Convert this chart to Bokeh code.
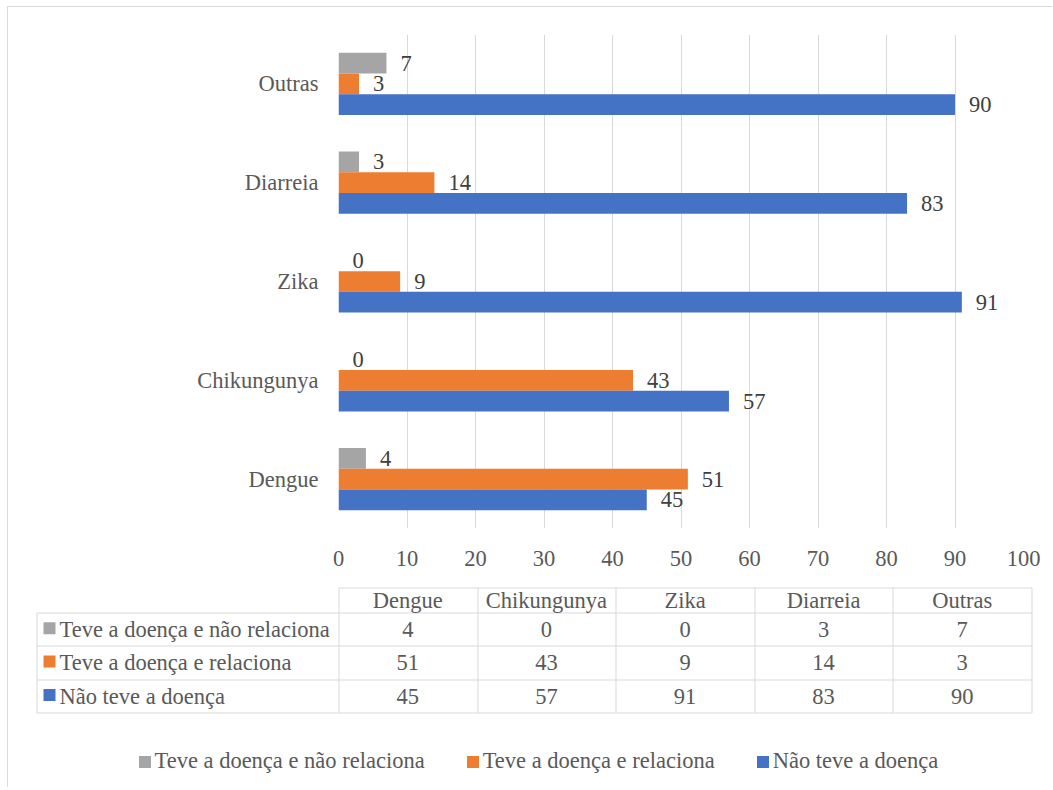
from bokeh.plotting import figure
from bokeh.models import ColumnDataSource, Range1d, FactorRange, FixedTicker, Legend, LegendItem
from bokeh.transform import dodge
from bokeh.layouts import column
from bokeh.embed import file_html
from bokeh.resources import INLINE
from bokeh.core.properties import value

# ---------------- data ----------------
categories = ["Dengue", "Chikungunya", "Zika", "Diarreia", "Outras"]
teve_nao_relaciona = [4, 0, 0, 3, 7]
teve_relaciona = [51, 43, 9, 14, 3]
nao_teve = [45, 57, 91, 83, 90]
series_names = ["Teve a doença e não relaciona", "Teve a doença e relaciona", "Não teve a doença"]
x_ticks = [0, 10, 20, 30, 40, 50, 60, 70, 80, 90, 100]

# ---------------- styles ----------------
series_colors = ["#A5A5A5", "#ED7D31", "#4472C4"]
FONT = "Liberation Serif"
FS = "22.5px"
TXT = "#595959"
LBL = "#404040"
GRID = "#D9D9D9"

series_values = [teve_nao_relaciona, teve_relaciona, nao_teve]
offsets = [0.21, 0.0, -0.21]
bar_h = 0.21

X0 = 8      # page x of the content (after outer border)
Y0 = 7      # page y of the content
W = 1044
HA = 568
HB = 212

# ---------------- chart ----------------
p = figure(width=W, height=HA, y_range=FactorRange(factors=categories), x_range=Range1d(0, 100),
           output_backend="svg", toolbar_location=None,
           min_border_left=338 - X0, min_border_right=W - (338 - X0) - 685,
           min_border_top=34 - Y0, min_border_bottom=HA - (528 - Y0))
p.frame_align = False
p.outline_line_color = None
p.background_fill_color = "white"
p.border_fill_color = "white"
p.ygrid.grid_line_color = None
p.xgrid.grid_line_color = GRID
p.xgrid.grid_line_width = 1
p.xaxis.ticker = FixedTicker(ticks=x_ticks)
for ax in (p.xaxis, p.yaxis):
    ax.axis_line_color = None
    ax.major_tick_line_color = None
    ax.minor_tick_line_color = None
    ax.major_label_text_font = FONT
    ax.major_label_text_font_size = FS
    ax.major_label_text_color = TXT
p.xaxis.major_label_standoff = 16
p.yaxis.major_label_standoff = 14

data = dict(cat=categories)
for i, vals in enumerate(series_values):
    data[f"s{i}"] = vals
    data[f"l{i}"] = [str(v) for v in vals]
src = ColumnDataSource(data)

for i in range(3):
    y = dodge("cat", offsets[i], range=p.y_range)
    p.hbar(y=y, left=0, right=f"s{i}", height=bar_h, source=src,
           fill_color=series_colors[i], line_color=None)
    p.text(x=f"s{i}", y=y, text=f"l{i}", source=src, x_offset=14,
           text_baseline="middle", text_align="left",
           text_font=value(FONT), text_font_size=FS, text_color=LBL)

# ---------------- data table + legend ----------------
TOP = Y0 + HA
t = figure(width=W, height=HB, x_range=Range1d(X0, X0 + W), y_range=Range1d(TOP + HB, TOP),
           output_backend="svg", toolbar_location=None, min_border=0,
           x_axis_location=None, y_axis_location=None)
t.frame_align = False
t.grid.visible = False
t.outline_line_color = None
t.background_fill_color = "white"
t.border_fill_color = "white"

label_left = 36
col_left = 338
col_right = 1031
header_top = 587
header_bottom = 612
row_h = 33.4
ncol = len(categories)
col_w = (col_right - col_left) / ncol
col_edges = [col_left + k * col_w for k in range(ncol + 1)]
col_centers = [col_left + (k + 0.5) * col_w for k in range(ncol)]
row_edges = [header_bottom + r * row_h for r in range(len(series_names) + 1)]
row_centers = [header_bottom + (r + 0.5) * row_h for r in range(len(series_names))]

def crisp(v):
    return round(v) + 0.5

hx0, hx1, hy = [], [], []
hx0.append(col_left); hx1.append(col_right); hy.append(crisp(header_top))
for ye in row_edges:
    hx0.append(label_left); hx1.append(col_right); hy.append(crisp(ye))
t.segment(x0=[crisp(a) for a in hx0], x1=[crisp(b) for b in hx1], y0=hy, y1=hy,
          line_color=GRID, line_width=1)
vx, vy0, vy1 = [crisp(label_left)], [crisp(header_bottom)], [crisp(row_edges[-1])]
for xe in col_edges:
    vx.append(crisp(xe)); vy0.append(crisp(header_top)); vy1.append(crisp(row_edges[-1]))
t.segment(x0=vx, x1=vx, y0=vy0, y1=vy1, line_color=GRID, line_width=1)

t.text(x=col_centers, y=[(header_top + header_bottom) / 2] * ncol, text=categories,
       text_align="center", text_baseline="middle",
       text_font=value(FONT), text_font_size=FS, text_color=TXT)

squares = []
for r, vals in enumerate(series_values):
    t.text(x=col_centers, y=[row_centers[r]] * ncol, text=[str(v) for v in vals],
           text_align="center", text_baseline="middle",
           text_font=value(FONT), text_font_size=FS, text_color=TXT)
    t.text(x=[59], y=[row_centers[r]], text=[series_names[r]],
           text_align="left", text_baseline="middle",
           text_font=value(FONT), text_font_size=FS, text_color=TXT)
    sq = t.rect(x=[49], y=[row_centers[r] - 1], width=12, height=12,
                fill_color=series_colors[r], line_color=None)
    squares.append(sq)

legend = Legend(items=[LegendItem(label=series_names[r], renderers=[squares[r]]) for r in range(3)],
                orientation="horizontal", location=(136.5 - X0, (TOP + HB) - 760 - 14),
                glyph_width=15, glyph_height=15, label_standoff=3, spacing=40,
                padding=0, margin=0, border_line_color=None, background_fill_alpha=0,
                label_text_font=FONT, label_text_font_size=FS, label_text_color=TXT,
                label_height=26)
t.add_layout(legend)

layout = column(p, t, spacing=0,
                styles={"margin-left": "7px", "margin-top": "6px",
                        "border-left": "1px solid #D9D9D9", "border-top": "1px solid #D9D9D9"})
open("out.html", "w").write(file_html(layout, INLINE, "chart"))
